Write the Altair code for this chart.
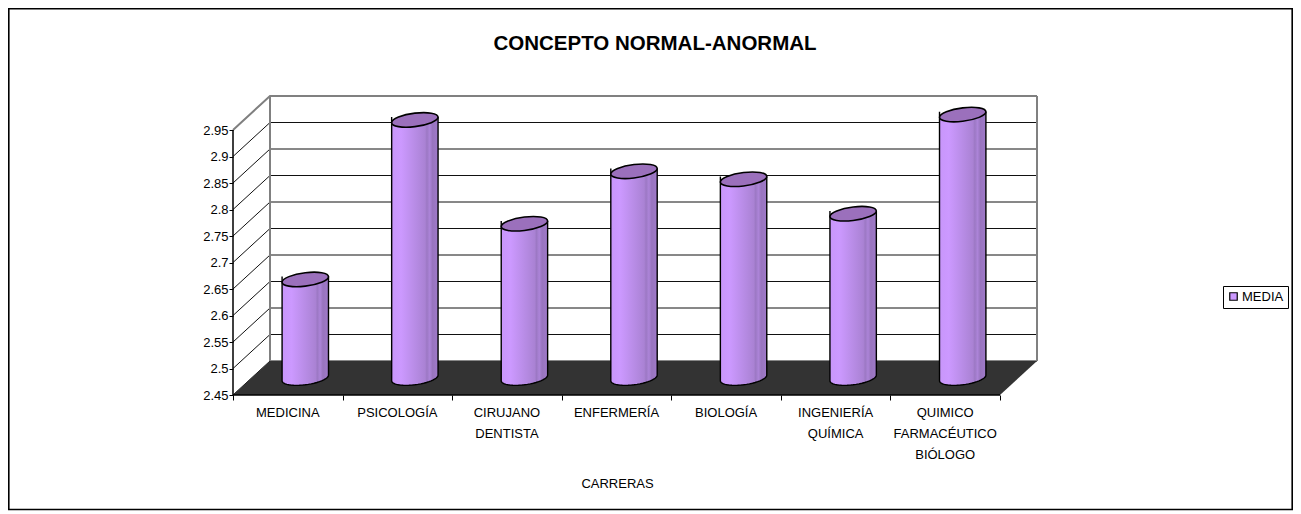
import math
import altair as alt
import pandas as pd

# ---- values
carreras = ["MEDICINA", "PSICOLOGÍA", "CIRUJANO\nDENTISTA", "ENFERMERÍA", "BIOLOGÍA",
            "INGENIERÍA\nQUÍMICA", "QUIMICO\nFARMACÉUTICO\nBIÓLOGO"]
media = [2.636, 2.937, 2.741, 2.84, 2.825, 2.76, 2.947]
y_ticks = [2.45, 2.5, 2.55, 2.6, 2.65, 2.7, 2.75, 2.8, 2.85, 2.9, 2.95]
x_ticks = [0, 1, 2, 3, 4, 5, 6, 7]

FONT = "Liberation Sans"
PX_X = 767 / 7          # pixels per category
PX_Y = 530              # pixels per unit
W, H = 804, 299
DX = (W - 767) / PX_X   # depth of the box in x units
DY = (H - 265) / PX_Y   # depth of the box in y units
Y0, Y1 = 2.45, 2.95
HALF = 23.2 / PX_X      # half cylinder width
TILT = 2.8 / PX_Y
ARC = 6.8 / PX_Y

xs = alt.Scale(domain=[0, 7 + DX], range=[0, W], nice=False, zero=False)
ys = alt.Scale(domain=[Y0, Y1 + DY], range=[H, 0], nice=False, zero=False)
x_axis = alt.Axis(
    values=x_ticks, labels=False, grid=False, domain=False, ticks=True, tickSize=5,
    tickColor="#000000", title="CARRERAS", titleFont=FONT, titleFontSize=13, titleFontWeight="normal",
    titleColor="#000000", titleX=384, titleY=88, titleBaseline="middle")
y_axis = alt.Axis(
    values=y_ticks, format=".2~f", grid=False, domain=False, tickSize=4, tickColor="#000000",
    labelFont=FONT, labelFontSize=13, labelColor="#000000", labelPadding=1, title=None)
X = alt.X("x:Q", scale=xs, axis=x_axis)
Y = alt.Y("y:Q", scale=ys, axis=y_axis)

gradient = alt.Gradient(
    gradient="linear", x1=0, x2=1, y1=0, y2=0,
    stops=[
        alt.GradientStop(offset=0, color="#C896FA"),
        alt.GradientStop(offset=0.2, color="#CC99FF"),
        alt.GradientStop(offset=0.5, color="#B88CE6"),
        alt.GradientStop(offset=0.72, color="#AA82D4"),
        alt.GradientStop(offset=0.76, color="#9C78C4"),
        alt.GradientStop(offset=0.82, color="#AC84D8"),
        alt.GradientStop(offset=0.88, color="#9874BE"),
        alt.GradientStop(offset=1, color="#A07ACA"),
    ],
)

# slightly tilted ellipse, as a symbol path
k, ax, ay, by = 0.5523, 1, -0.12, 0.29
ellipse = (
    f"M{ax},{ay} "
    f"C{ax},{ay + k * by} {k * ax},{by + k * ay} 0,{by} "
    f"C{-k * ax},{by - k * ay} {-ax},{-ay + k * by} {-ax},{-ay} "
    f"C{-ax},{-ay - k * by} {-k * ax},{-by - k * ay} 0,{-by} "
    f"C{k * ax},{-by + k * ay} {ax},{ay - k * by} {ax},{ay} Z"
)
SIZE = 46.4 ** 2

# ---- frame of the box
grid_rows, frame_rows = [], []
for i, v in enumerate(y_ticks):
    grid_rows += [
        {"id": i, "x": 0, "y": v}, {"id": i, "x": DX, "y": v + DY}, {"id": i, "x": 7 + DX, "y": v + DY},
    ]
frame_lines = [
    [(DX, Y0 + DY), (DX, Y1 + DY)],
    [(7 + DX, Y0 + DY), (7 + DX, Y1 + DY)],
    [(0, Y1), (DX, Y1 + DY), (7 + DX, Y1 + DY)],
]
for i, seg in enumerate(frame_lines):
    frame_rows += [{"id": i, "o": j, "x": a, "y": b} for j, (a, b) in enumerate(seg)]
front_rows = [{"o": 0, "x": 0, "y": Y1}, {"o": 1, "x": 0, "y": Y0}, {"o": 2, "x": 7, "y": Y0}]

floor = pd.DataFrame({
    "x": [0, DX, 7, 7 + DX],
    "y": [Y0, Y0 + DY, Y0 + DY, Y0 + DY],
    "y2": [Y0, Y0, Y0, Y0 + DY],
})

# ---- cylinders
centres = [i + 0.5 + DX / 2 - 1 / PX_X for i in range(len(media))]
tops = [v + DY / 2 for v in media]
base = Y0 + DY / 2
cyl = pd.DataFrame({"cat": carreras, "x": centres, "y": tops})
body_rows, edge_rows = [], []
N = 24
for c, cx, t in zip(carreras, centres, tops):
    edge_rows.append({"cat": c, "o": -1, "x": cx - HALF, "y": t + TILT})
    for j in range(N + 1):
        a = math.pi - math.pi * j / N
        px = cx + HALF * math.cos(a)
        lower = base + TILT * math.cos(a) - ARC * math.sin(a)
        body_rows.append({"cat": c, "x": px, "y": t + TILT * math.cos(a), "y2": lower})
        edge_rows.append({"cat": c, "o": j, "x": px, "y": lower})
    edge_rows.append({"cat": c, "o": N + 1, "x": cx + HALF, "y": t + TILT})

layers = [
    alt.Chart(pd.DataFrame(grid_rows)).mark_line(color="#111111", strokeWidth=1).encode(
        x=X, y=Y, detail="id:N", order="x:Q"),
    alt.Chart(pd.DataFrame({"a": [0]})).mark_rect(fill="transparent", stroke="#000000", strokeWidth=1.6).encode(
        x=alt.value(-224.2), x2=alt.value(1059.2), y=alt.value(-87.4), y2=alt.value(413.5)),
    alt.Chart(pd.DataFrame(frame_rows)).mark_line(color="#808080", strokeWidth=2).encode(
        x=X, y=Y, detail="id:N", order="o:Q"),
    alt.Chart(floor).mark_area(color="#333333", line=False).encode(x=X, y=Y, y2="y2:Q"),
    alt.Chart(pd.DataFrame(front_rows)).mark_line(color="#000000", strokeWidth=1.5).encode(
        x=X, y=Y, order="o:Q"),
    alt.Chart(pd.DataFrame(body_rows)).mark_area(fill=gradient, line=False, opacity=1).encode(
        x=X, y=Y, y2="y2:Q", detail="cat:N"),
    alt.Chart(pd.DataFrame(edge_rows)).mark_line(color="#000000", strokeWidth=1.4).encode(
        x=X, y=Y, detail="cat:N", order="o:Q"),
    alt.Chart(cyl).mark_point(shape=ellipse, size=SIZE, filled=True, fill="#9B70BC", stroke="#000000",
                              strokeWidth=1.6, opacity=1).encode(x=X, y=Y),
    alt.Chart(pd.DataFrame({"cat": carreras, "x": [i + 0.5 for i in range(7)], "y": [Y0] * 7})).mark_text(
        lineBreak="\n", baseline="top", dy=12, lineHeight=21, font=FONT, fontSize=13, color="#000000").encode(
        x=X, y=Y, text="cat:N"),
    alt.Chart(pd.DataFrame({"s": ["MEDIA"], "x": [0.5], "y": [Y0]})).mark_square(size=0, opacity=0).encode(
        x=X, y=Y,
        color=alt.Color("s:N", scale=alt.Scale(domain=["MEDIA"], range=["#CC99FF"]), legend=alt.Legend(
            title=None, orient="none", legendX=990, legendY=190, strokeColor="#000000", padding=4,
            symbolType="square", symbolSize=56, symbolStrokeColor="#000000", symbolStrokeWidth=1.2,
            symbolOpacity=1, labelFont=FONT, labelFontSize=13, labelColor="#000000", labelOffset=2))),
]

chart = alt.layer(*layers).properties(
    width=W, height=H,
    padding={"left": 225, "top": 88, "right": 256, "bottom": 116},
    autosize=alt.AutoSizeParams(type="none"),
    background="#ffffff",
    title=alt.TitleParams("CONCEPTO NORMAL-ANORMAL", font=FONT, fontSize=20.5, fontWeight="bold", color="#000000",
                          anchor="middle", dx=20, dy=47, offset=0),
).configure_view(stroke=None)

chart.save("out.html", embed_options={"renderer": "svg", "actions": False})
